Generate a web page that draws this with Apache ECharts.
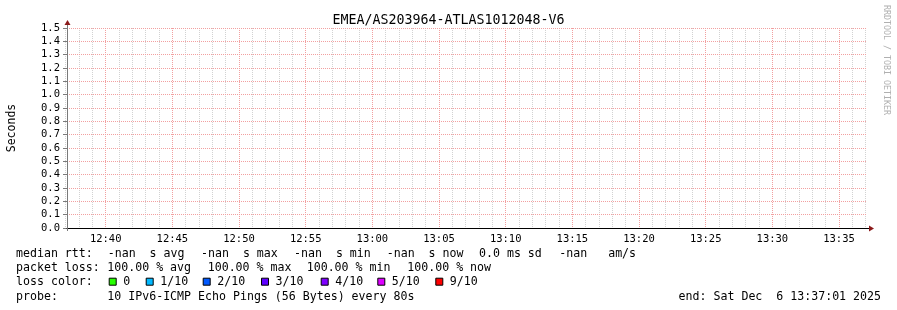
<!DOCTYPE html>
<html><head><meta charset="utf-8">
<script src="https://cdn.jsdelivr.net/npm/echarts@6/dist/echarts.min.js"></script>
<style>html,body{margin:0;padding:0;background:#fff}#c{width:897px;height:310px}</style>
</head><body><div id="c"></div>
<script>
// ---- data ----
var titleText = 'EMEA/AS203964-ATLAS1012048-V6';
var yAxisName = 'Seconds';
var yMin = 0, yMax = 1.5, yStep = 0.1;
var startHour = 12, startMinute = 37, spanMinutes = 60;   // 12:37 .. 13:37
var majorEvery = 5;                                        // labelled ticks every 5 min
var medianLine = ['median rtt:', '-nan  s avg', '-nan  s max', '-nan  s min', '-nan  s now', '0.0 ms sd', '-nan   am/s'];
var lossLine = ['packet loss:', '100.00 % avg', '100.00 % max', '100.00 % min', '100.00 % now'];
var lossColorTitle = 'loss color:';
var lossLabels = ['0', '1/10', '2/10', '3/10', '4/10', '5/10', '9/10'];
var lossColors = ['#26ff00', '#00b8ff', '#0059ff', '#5e00ff', '#7e00ff', '#dd00ff', '#ff0000'];
var probeLine = ['probe:', '10 IPv6-ICMP Echo Pings (56 Bytes) every 80s'];
var endText = 'end: Sat Dec  6 13:37:01 2025';
var watermark = 'RRDTOOL / TOBI OETIKER';

// ---- layout ----
var FONT = '"DejaVu Sans Mono", monospace';
var medianX = [16, 107.7, 201, 294, 386.7, 479, 559.3];
var lossX = [16, 107.3, 207.7, 306.7, 407.3];
var boxX = [108.7, 145.7, 202.7, 261, 320.7, 377.3, 435.3];
var lineY = [254, 268.3, 281.7, 296.5];
var MAJOR_COLOR = '#f2a0a0', MINOR_COLOR = '#d2d2d2';
var PLOT_LEFT = 67, PLOT_W = 800, TIME_LEFT = 65.7;   // time origin sits a few seconds left of the axis

// minute categories
var minutes = [];
for (var i = 0; i <= spanMinutes; i++) {
  var t = startHour * 60 + startMinute + i;
  var h = Math.floor(t / 60), m = t % 60;
  minutes.push((h < 10 ? '0' : '') + h + ':' + (m < 10 ? '0' : '') + m);
}
function isMajor(idx, val) { return parseInt(val.split(':')[1], 10) % majorEvery === 0; }

var chart = echarts.init(document.getElementById('c'), null, {renderer: 'canvas'});
var option = {
  animation: false,
  backgroundColor: '#ffffff',
  title: {
    text: titleText, left: 'center', top: 9,
    textStyle: {fontFamily: FONT, fontSize: 13.3, fontWeight: 'normal', color: '#000'}
  },
  grid: [
    {left: PLOT_LEFT, width: PLOT_W, top: 28, bottom: 82, containLabel: false, outerBoundsMode: 'none'},
    {left: TIME_LEFT, width: PLOT_W, top: 28, bottom: 82, containLabel: false, outerBoundsMode: 'none'}
  ],
  xAxis: [{
    // frame axis (black base line)
    type: 'value', gridIndex: 0, min: 0, max: 1, z: 4,
    axisLine: {show: true, lineStyle: {color: '#000', width: 1}},
    axisTick: {show: false}, axisLabel: {show: false}, splitLine: {show: false}
  }, {
    type: 'category', gridIndex: 1, data: minutes, boundaryGap: false, z: 3,
    axisLine: {show: false},
    axisTick: {show: false},
    axisLabel: {interval: isMajor, margin: 6, fontFamily: FONT, fontSize: 10.5, color: '#000'},
    splitLine: {show: true, interval: isMajor, lineStyle: {color: MAJOR_COLOR, type: [1, 1], width: 1}}
  }, {
    type: 'category', gridIndex: 1, data: minutes, boundaryGap: false, z: 1,
    axisLine: {show: false}, axisTick: {show: false}, axisLabel: {show: false},
    splitLine: {show: true, interval: function (i, v) { return !isMajor(i, v); },
      lineStyle: {color: MINOR_COLOR, type: [1, 1], width: 1}}
  }],
  yAxis: [{
    type: 'value', gridIndex: 0, min: yMin, max: yMax, interval: yStep, z: 2,
    name: yAxisName, nameLocation: 'middle', nameRotate: 90, nameGap: 49,
    nameTextStyle: {fontFamily: FONT, fontSize: 11.5, color: '#000'},
    axisLine: {show: true, lineStyle: {color: '#7a7a7a', width: 1}},
    axisTick: {show: true, length: 4, lineStyle: {color: '#7a7a7a'}},
    axisLabel: {margin: 7, fontFamily: FONT, fontSize: 10.5, color: '#000',
      formatter: function (v) { return v.toFixed(1); }},
    splitLine: {show: true, lineStyle: {color: MAJOR_COLOR, type: [1, 1], width: 1}}
  }, {
    type: 'value', gridIndex: 1, min: yMin, max: yMax, show: false
  }],
  series: [{type: 'line', xAxisIndex: 1, yAxisIndex: 1, data: [], silent: true}]
};
chart.setOption(option);

// decorations derived from the grid via the library's scales
var p0 = chart.convertToPixel({xAxisIndex: 0, yAxisIndex: 0}, [0, yMin]);
var p1 = chart.convertToPixel({xAxisIndex: 0, yAxisIndex: 0}, [1, yMax]);
var L = Math.round(p0[0]), B = Math.round(p0[1]), R = Math.round(p1[0]), T = Math.round(p1[1]);
var els = [];
var arrowColor = '#8b1a1a';
els.push({type: 'line', shape: {x1: L + 0.5, y1: T - 3, x2: L + 0.5, y2: T}, style: {stroke: '#7a7a7a', lineWidth: 1}, z: 10});
els.push({type: 'polygon', shape: {points: [[L - 2.5, T - 3], [L + 3.5, T - 3], [L + 0.5, T - 8]]}, style: {fill: arrowColor}, z: 10});
els.push({type: 'line', shape: {x1: R, y1: B + 0.5, x2: R + 2, y2: B + 0.5}, style: {stroke: '#000', lineWidth: 1}, z: 10});
els.push({type: 'polygon', shape: {points: [[R + 2, B - 2.5], [R + 2, B + 3.5], [R + 7, B + 0.5]]}, style: {fill: arrowColor}, z: 10});
els.push({type: 'line', shape: {x1: L + 0.5, y1: B, x2: L + 0.5, y2: B + 3}, style: {stroke: '#7a7a7a', lineWidth: 1}, z: 10});

function txt(x, y, s, extra) {
  var st = {text: s, x: x, y: y, font: '11.6px ' + FONT, fill: '#000', verticalAlign: 'middle', whiteSpace: 'pre'};
  if (extra) for (var k in extra) st[k] = extra[k];
  return {type: 'text', style: st, z: 10};
}
medianLine.forEach(function (s, i) { els.push(txt(medianX[i], lineY[0], s)); });
lossLine.forEach(function (s, i) { els.push(txt(lossX[i], lineY[1], s)); });
els.push(txt(16, lineY[2], lossColorTitle));
lossLabels.forEach(function (s, i) {
  els.push({type: 'rect', shape: {x: boxX[i] + 0.5, y: lineY[2] - 3.5, width: 7, height: 7},
    style: {fill: lossColors[i], stroke: '#000', lineWidth: 1}, z: 10});
  els.push(txt(boxX[i] + 14.5, lineY[2], s));
});
els.push(txt(16, lineY[3], probeLine[0]));
els.push(txt(107.3, lineY[3], probeLine[1]));
els.push(txt(881, lineY[3], endText, {align: 'right'}));
els.push({type: 'text', x: 886, y: 5, rotation: -Math.PI / 2,
  style: {text: watermark, x: 0, y: 0, font: '8.3px ' + FONT, fill: '#b0b0b0', verticalAlign: 'middle', align: 'left'}, z: 10});

chart.setOption({graphic: {elements: els}});
</script></body></html>
